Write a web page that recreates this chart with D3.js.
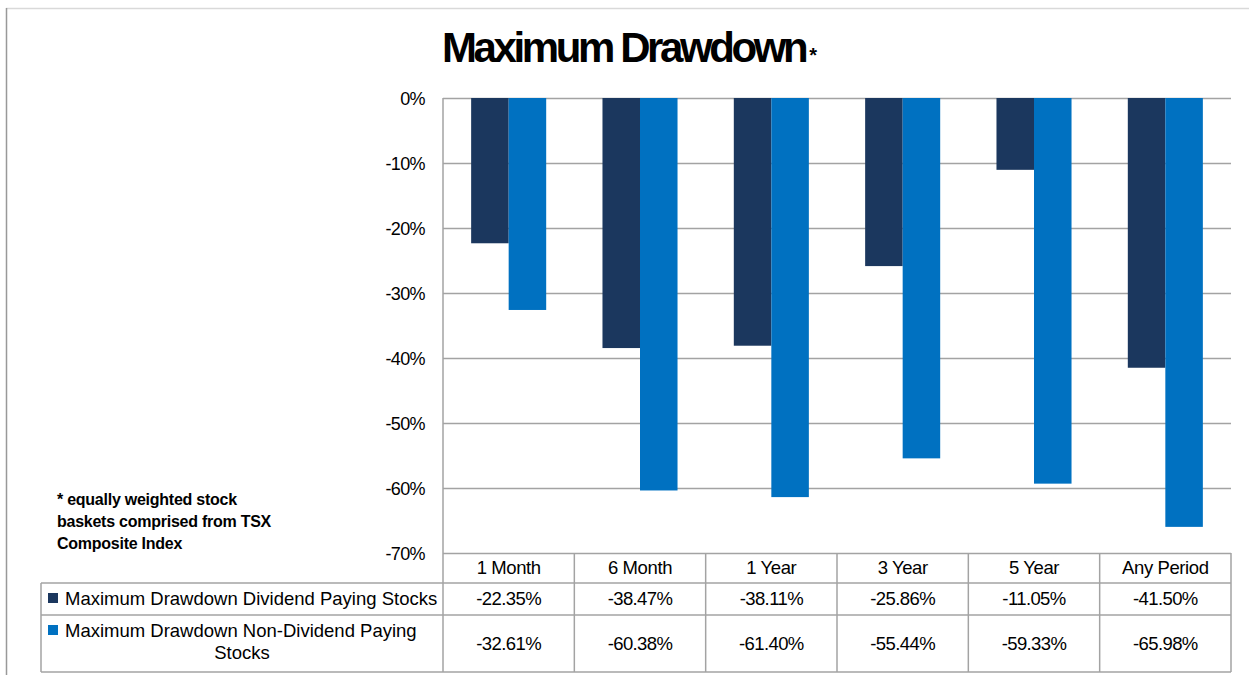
<!DOCTYPE html>
<html>
<head>
<meta charset="utf-8">
<script src="https://cdn.jsdelivr.net/npm/d3@7"></script>
<style>
  body { margin: 0; background: #fff; }
  text { font-family: "Liberation Sans", Arial, sans-serif; fill: #000; }
</style>
</head>
<body>
<script>
// data
var periods = ["1 Month", "6 Month", "1 Year", "3 Year", "5 Year", "Any Period"];
var seriesNames = ["Maximum Drawdown Dividend Paying Stocks", "Maximum Drawdown Non-Dividend Paying Stocks"];
var dividend = [-0.2235, -0.3847, -0.3811, -0.2586, -0.1105, -0.4150];
var nonDividend = [-0.3261, -0.6038, -0.6140, -0.5544, -0.5933, -0.6598];
var yTicks = [0, -0.1, -0.2, -0.3, -0.4, -0.5, -0.6, -0.7];
var colors = ["#1b375e", "#0071c1"];

var svg = d3.select("body").append("svg")
    .attr("width", 1249)
    .attr("height", 675);

var plot = {left: 443, right: 1231, top: 98, bottom: 553};
var table = {left: 41, header: 583, row1: 615, bottom: 672};

var loc = d3.formatLocale({decimal: ".", thousands: ",", grouping: [3], currency: ["$", ""], minus: "-"});
var pct0 = loc.format(".0%"),
    pct2 = loc.format(".2%");

var x0 = d3.scaleBand().domain(periods).range([plot.left, plot.right]);
var x1 = d3.scaleBand().domain([0, 1]).range([0, x0.bandwidth()]).paddingOuter(0.75);
var y = d3.scaleLinear().domain([-0.7, 0]).range([plot.bottom, plot.top]);

var lineCol = "#a3a3a3";

// outer frame
svg.append("line").attr("x1", 6).attr("x2", 1249).attr("y1", 8.5).attr("y2", 8.5)
    .attr("stroke", "#d9d9d9").attr("stroke-width", 1.5);
svg.append("line").attr("x1", 6.5).attr("x2", 6.5).attr("y1", 8).attr("y2", 675)
    .attr("stroke", "#999").attr("stroke-width", 1.5);

// title
var title = svg.append("text")
    .attr("x", 442).attr("y", 62)
    .style("font-size", "42px").style("font-weight", "bold").style("letter-spacing", "-3.4px")
    .text("Maximum Drawdown");
title.append("tspan").style("font-size", "20px").style("letter-spacing", "0px").attr("dx", 4).text("*");

// gridlines
var yAxis = d3.axisLeft(y).tickValues(yTicks).tickSize(-(plot.right - plot.left)).tickFormat(pct0).tickPadding(18);
var gy = svg.append("g").attr("transform", "translate(" + plot.left + ",0)").call(yAxis);
gy.select(".domain").remove();
gy.selectAll(".tick line").attr("stroke", lineCol).attr("stroke-width", 1.5);
gy.selectAll(".tick text")
    .style("font-size", "18px").style("letter-spacing", "-0.6px")
    .attr("fill", "#000").attr("dy", "0.35em")
    .style("font-family", "'Liberation Sans', Arial, sans-serif");

// bars
var allSeries = [dividend, nonDividend];
allSeries.forEach(function(vals, si) {
  svg.append("g").selectAll("rect")
    .data(vals)
    .enter().append("rect")
      .attr("x", function(d, i) { return x0(periods[i]) + x1(si); })
      .attr("width", x1.bandwidth())
      .attr("y", y(0))
      .attr("height", function(d) { return y(d) - y(0); })
      .attr("fill", colors[si]);
});

// data table
var tg = svg.append("g");
function hline(x1_, x2_, yy) {
  tg.append("line").attr("x1", x1_).attr("x2", x2_).attr("y1", yy).attr("y2", yy)
    .attr("stroke", lineCol).attr("stroke-width", 1.5);
}
function vline(xx, y1_, y2_) {
  tg.append("line").attr("x1", xx).attr("x2", xx).attr("y1", y1_).attr("y2", y2_)
    .attr("stroke", lineCol).attr("stroke-width", 1.5);
}
hline(table.left, plot.right, table.header);
hline(table.left, plot.right, table.row1);
hline(table.left, plot.right, table.bottom);
vline(table.left, table.header, table.bottom);
vline(plot.left, plot.top, table.bottom);
periods.forEach(function(p) { vline(x0(p) + x0.bandwidth(), plot.bottom, table.bottom); });

var fs = "18.5px";
tg.selectAll(".hdr").data(periods).enter().append("text")
    .attr("x", function(d) { return x0(d) + x0.bandwidth() / 2; })
    .attr("y", 573.5)
    .attr("text-anchor", "middle")
    .style("font-size", fs).style("letter-spacing", "-0.4px")
    .text(function(d) { return d; });

tg.selectAll(".v1").data(dividend).enter().append("text")
    .attr("x", function(d, i) { return x0(periods[i]) + x0.bandwidth() / 2; })
    .attr("y", 605)
    .attr("text-anchor", "middle")
    .style("font-size", fs).style("letter-spacing", "-0.6px")
    .text(function(d) { return pct2(d); });

tg.selectAll(".v2").data(nonDividend).enter().append("text")
    .attr("x", function(d, i) { return x0(periods[i]) + x0.bandwidth() / 2; })
    .attr("y", 650)
    .attr("text-anchor", "middle")
    .style("font-size", fs).style("letter-spacing", "-0.6px")
    .text(function(d) { return pct2(d); });

// legend keys in first column
tg.append("rect").attr("x", 48).attr("y", 593).attr("width", 10).attr("height", 10).attr("fill", colors[0]);
tg.append("text").attr("x", 65).attr("y", 605).style("font-size", fs).text(seriesNames[0]);
tg.append("rect").attr("x", 48).attr("y", 625).attr("width", 10).attr("height", 10).attr("fill", colors[1]);
tg.append("text").attr("x", 65).attr("y", 637).style("font-size", fs).text("Maximum Drawdown Non-Dividend Paying");
tg.append("text").attr("x", (table.left + plot.left) / 2).attr("y", 659).attr("text-anchor", "middle")
    .style("font-size", fs).text("Stocks");

// footnote
var note = ["* equally weighted stock", "baskets comprised from TSX", "Composite Index"];
svg.append("g").selectAll("text").data(note).enter().append("text")
    .attr("x", 57)
    .attr("y", function(d, i) { return 505 + i * 22; })
    .style("font-size", "16px").style("font-weight", "bold").style("letter-spacing", "-0.25px")
    .text(function(d) { return d; });
</script>
</body>
</html>
